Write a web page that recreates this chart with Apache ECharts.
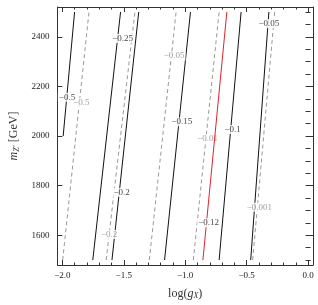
<!DOCTYPE html>
<html>
<head>
<meta charset="utf-8">
<script src="https://cdn.jsdelivr.net/npm/echarts@6/dist/echarts.min.js"></script>
<style>
  html, body { margin: 0; padding: 0; background: #fff; }
  #myChart { width: 318px; height: 305px; }
</style>
</head>
<body>
<div id="myChart"></div>
<script>
// tick values
const majorX = [-2, -1.5, -1, -0.5, 0];
const minorX = [-2, -1.9, -1.8, -1.7, -1.6, -1.5, -1.4, -1.3, -1.2, -1.1, -1, -0.9, -0.8, -0.7, -0.6, -0.5, -0.4, -0.3, -0.2, -0.1, 0];
const majorY = [1600, 1800, 2000, 2200, 2400];
const minorY = [1500, 1550, 1600, 1650, 1700, 1750, 1800, 1850, 1900, 1950, 2000, 2050, 2100, 2150, 2200, 2250, 2300, 2350, 2400, 2450, 2500];

// solid black contours  [log(gX), mZ']
const solidM050 = [[-1.993, 2000], [-1.900, 2500]];
const solidM025 = [[-1.752, 1500], [-1.526, 2500]];
const solidM020 = [[-1.596, 1500], [-1.378, 2500]];
const solidM015 = [[-1.168, 1500], [-0.957, 2500]];
const solidM010 = [[-0.724, 1500], [-0.545, 2500]];
const solidM005 = [[-0.467, 1500], [-0.319, 2500]];

// dashed gray contours
const dashM050 = [[-1.997, 1500], [-1.783, 2500]];
const dashM020 = [[-1.643, 1500], [-1.409, 2500]];
const dashM005 = [[-1.292, 1500], [-1.074, 2500]];
const dashM001 = [[-0.934, 1500], [-0.724, 2500]];
const dashM0001 = [[-0.451, 1500], [-0.272, 2500]];

// red contour
const redLine = [[-0.856, 1500], [-0.661, 2500]];

// contour labels [x, y, text]
const blackLabels = [
  [-1.962, 2156, '\u22120.5'],
  [-1.510, 2393, '\u22120.25'],
  [-1.518, 1773, '\u22120.2'],
  [-1.028, 2057, '\u22120.15'],
  [-0.615, 2026, '\u22120.1'],
  [-0.319, 2453, '\u22120.05'],
  [-0.809, 1650, '\u22120.12']
];
const grayLabels = [
  [-1.846, 2136, '\u22120.5'],
  [-1.619, 1603, '\u22120.2'],
  [-1.090, 2322, '\u22120.05'],
  [-0.817, 1990, '\u22120.01'],
  [-0.397, 1713, '\u22120.001']
];

const FONT = 'Liberation Serif';
const myChart = echarts.init(document.getElementById('myChart'));

function xAx(pos, vals, len, labels, extra) {
  return Object.assign({
    type: 'value', position: pos, min: -2.04, max: 0.04,
    axisLine: { show: true, onZero: false, lineStyle: { color: '#333', width: 1 } },
    axisTick: { show: true, inside: true, length: len, customValues: vals, lineStyle: { color: '#333' } },
    axisLabel: { show: labels, customValues: vals, margin: 6, fontFamily: FONT, fontSize: 9, color: '#222',
      formatter: v => (v < 0 ? '\u2212' : '') + Math.abs(v).toFixed(1) },
    splitLine: { show: false }
  }, extra || {});
}
function yAx(pos, vals, len, labels, extra) {
  return Object.assign({
    type: 'value', position: pos, min: 1480, max: 2520,
    axisLine: { show: true, onZero: false, lineStyle: { color: '#333', width: 1 } },
    axisTick: { show: true, inside: true, length: len, customValues: vals, lineStyle: { color: '#333' } },
    axisLabel: { show: labels, customValues: vals, margin: 8, fontFamily: FONT, fontSize: 9, color: '#222',
      formatter: v => String(v) },
    splitLine: { show: false }
  }, extra || {});
}

function solid(d) {
  return { type: 'line', data: d, symbol: 'none', z: 1, silent: true,
    lineStyle: { color: '#111', width: 1 } };
}
function dashed(d) {
  return { type: 'line', data: d, symbol: 'none', z: 1, silent: true,
    lineStyle: { color: '#999', width: 1, type: [4, 3] } };
}
function labels(d, color, z) {
  return { type: 'scatter', data: d, symbolSize: 0, z: z, silent: true,
    label: { show: true, position: 'inside', formatter: p => p.data[2],
      fontFamily: FONT, fontSize: 9, color: color, backgroundColor: '#fff', padding: [0, 1] } };
}

myChart.setOption({
  animation: false,
  backgroundColor: '#fff',
  grid: { left: 46, top: 7, right: 5, bottom: 35 },
  xAxis: [
    xAx('bottom', majorX, 5, true, {
      name: '{n|log(}{i|g}{s|X}{n|)}', nameLocation: 'middle', nameGap: 22,
      nameTextStyle: { rich: {
        n: { fontFamily: FONT, fontSize: 12, color: '#333' },
        i: { fontFamily: FONT, fontSize: 12, fontStyle: 'italic', color: '#333' },
        s: { fontFamily: FONT, fontSize: 8, fontStyle: 'italic', color: '#333', padding: [5, 0, 0, 0] }
      } }
    }),
    xAx('bottom', minorX, 2.5, false, { axisLine: { show: false } }),
    xAx('top', majorX, 5, false),
    xAx('top', minorX, 2.5, false, { axisLine: { show: false } })
  ],
  yAxis: [
    yAx('left', majorY, 5, true, {
      name: '{i|m}{s|Z\u2032} {n|[GeV]}', nameLocation: 'middle', nameGap: 33, nameRotate: 90,
      nameTextStyle: { rich: {
        n: { fontFamily: FONT, fontSize: 12, color: '#333' },
        i: { fontFamily: FONT, fontSize: 12, fontStyle: 'italic', color: '#333' },
        s: { fontFamily: FONT, fontSize: 8, fontStyle: 'italic', color: '#333', padding: [5, 0, 0, 0] }
      } }
    }),
    yAx('left', minorY, 2.5, false, { axisLine: { show: false } }),
    yAx('right', majorY, 5, false),
    yAx('right', minorY, 2.5, false, { axisLine: { show: false } })
  ],
  series: [
    solid(solidM050), solid(solidM025), solid(solidM020),
    solid(solidM015), solid(solidM010), solid(solidM005),
    dashed(dashM050), dashed(dashM020), dashed(dashM005),
    dashed(dashM001), dashed(dashM0001),
    labels(grayLabels, '#888', 3),
    { type: 'line', data: redLine, symbol: 'none', z: 4, silent: true,
      lineStyle: { color: '#e0242c', width: 1 } },
    labels(blackLabels, '#111', 5)
  ]
});
</script>
</body>
</html>
